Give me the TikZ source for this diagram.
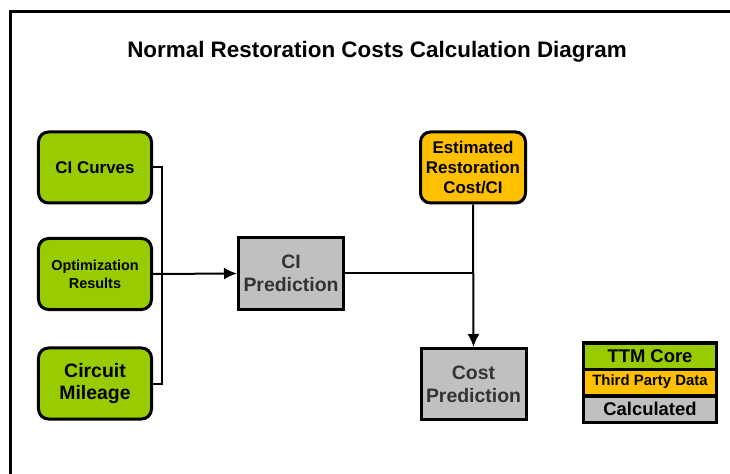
\documentclass[tikz,border=0pt]{standalone}
\usepackage{fontspec}
\setmainfont{Liberation Sans}
\usetikzlibrary{arrows.meta}
\definecolor{ttmgreen}{HTML}{99CC00}
\definecolor{thirdorange}{HTML}{FFC000}
\definecolor{calcgray}{HTML}{C0C0C0}
\definecolor{calctext}{HTML}{333333}
\newcommand{\fs}[2]{\fontsize{#1}{#2}\selectfont\bfseries}
\tikzset{
  box/.style={draw, line width=3bp, align=center, inner sep=0pt, minimum width=105bp, minimum height=71bp},
  core/.style={box, rounded corners=10bp, fill=ttmgreen, minimum width=113bp},
  thirdparty/.style={box, rounded corners=10bp, fill=thirdorange},
  calc/.style={box, fill=calcgray, text=calctext},
  legendrow/.style={draw, line width=3bp, inner sep=0pt, minimum width=133bp, minimum height=26bp},
  wire/.style={line width=2bp},
  tip/.style={-{Latex[length=13bp,width=12bp]}}
}
\begin{document}
\begin{tikzpicture}[x=1bp, y=-1bp]
  \useasboundingbox (0,0) rectangle (730,474);
  \draw[line width=3bp] (10,480) -- (10,12) -- (740,12);
  \node[font=\fs{22.5}{26}] (title) at (377,52) {Normal Restoration Costs Calculation Diagram};

  \node[core, font=\fs{17}{21}] (curves) at (95,167.5) {CI Curves};
  \node[core, font=\fs{14.5}{18}] (optim) at (95,274) {Optimization\\Results};
  \node[core, font=\fs{19.5}{23}] (mileage) at (95,383.5) {Circuit\\Mileage};
  \node[calc, font=\fs{19.5}{23}] (cipred) at (291,273.5) {CI\\Prediction};
  \node[thirdparty, font=\fs{17}{20}] (estcost) at (473,167.5) {Estimated\\Restoration\\Cost/CI};
  \node[calc, font=\fs{19.5}{23}] (costpred) at (473.5,384) {Cost\\Prediction};

  \draw[wire] (curves.east) -- ++(9,0) |- (mileage.east);
  \draw[wire,tip] (optim.east) -- (cipred.west);
  \draw[wire] (cipred.east) -- (cipred.east -| estcost.south);
  \draw[wire,tip] (estcost.south) -- (costpred.north);

  % legend
  \node[legendrow, fill=ttmgreen, font=\fs{18.5}{20}] (legcore) at (650,356) {TTM Core};
  \node[legendrow, fill=thirdorange, font=\fs{15}{17}] (legthird) at (650,382) {Third Party Data};
  \node[legendrow, fill=calcgray, font=\fs{18.5}{20}] (legcalc) at (650,409) {Calculated};
\end{tikzpicture}
\end{document}
